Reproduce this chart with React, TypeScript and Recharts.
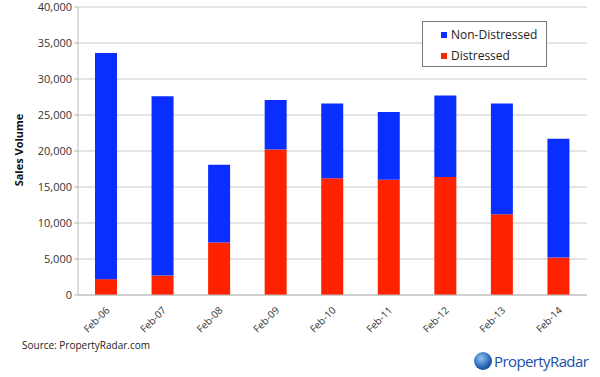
import React from 'react';
import { BarChart, Bar, XAxis, YAxis, CartesianGrid } from 'recharts';

document.body.style.margin = '0';

const months = ['Feb-06', 'Feb-07', 'Feb-08', 'Feb-09', 'Feb-10', 'Feb-11', 'Feb-12', 'Feb-13', 'Feb-14'];
const distressed = [2200, 2700, 7300, 20200, 16200, 16000, 16400, 11200, 5200];
const totals = [33600, 27600, 18100, 27100, 26600, 25400, 27700, 26600, 21700];
const yTicks = [0, 5000, 10000, 15000, 20000, 25000, 30000, 35000, 40000];

const data = months.map((m, i) => ({
  month: m,
  distressed: distressed[i],
  nonDistressed: totals[i] - distressed[i],
}));

const FONT = '"Open Sans", "DejaVu Sans", sans-serif';

const MonthTick = ({ x, y, payload }: any) => (
  <text
    x={x + 4}
    y={y + 8}
    textAnchor="end"
    fontSize={10}
    fontFamily={FONT}
    fill="#333"
    transform={`rotate(-45 ${x + 4} ${y + 8})`}
  >
    {payload.value}
  </text>
);

// legend drawn as overlay so it takes no space from the plot
const LegendBox = () => (
  <div
    style={{
      position: 'absolute',
      left: 422,
      top: 21,
      width: 125,
      height: 46,
      border: '1px solid #777',
      background: '#fff',
      fontFamily: FONT,
      fontSize: 12,
      color: '#222',
      boxSizing: 'border-box',
      paddingLeft: 18,
      paddingTop: 2,
    }}
  >
    <div style={{ display: 'flex', alignItems: 'center', height: 21 }}>
      <span style={{ width: 6, height: 6, background: '#0a2eff', marginRight: 4 }} />
      Non-Distressed
    </div>
    <div style={{ display: 'flex', alignItems: 'center', height: 21 }}>
      <span style={{ width: 6, height: 6, background: '#ff2200', marginRight: 4 }} />
      Distressed
    </div>
  </div>
);

export default function App() {
  return (
    <div style={{ position: 'relative', width: 600, height: 377, background: '#fff' }}>
      <BarChart
        width={600}
        height={377}
        data={data}
        margin={{ top: 7, right: 13, left: 0, bottom: 0 }}
      >
        <CartesianGrid vertical={false} stroke="#c8c8c8" />
        <XAxis
          dataKey="month"
          height={82}
          tick={<MonthTick />}
          tickLine={false}
          axisLine={{ stroke: '#bbb' }}
          interval={0}
        />
        <YAxis
          width={78}
          domain={[0, 40000]}
          ticks={yTicks}
          tickFormatter={(v: number) => v.toLocaleString('en-US')}
          tick={{ fontSize: 11, fill: '#333', fontFamily: FONT }}
          tickLine={{ stroke: '#bbb' }}
          tickSize={4}
          axisLine={{ stroke: '#bbb' }}
        />
        <Bar dataKey="distressed" name="Distressed" stackId="a" fill="#ff2200" barSize={22} isAnimationActive={false} />
        <Bar dataKey="nonDistressed" name="Non-Distressed" stackId="a" fill="#0a2eff" barSize={22} isAnimationActive={false} />
      </BarChart>
      <LegendBox />
      <div
        style={{
          position: 'absolute',
          left: 18,
          top: 150,
          transform: 'translate(-50%, -50%) rotate(-90deg)',
          fontFamily: FONT,
          fontWeight: 'bold',
          fontSize: 11,
          color: '#111',
          whiteSpace: 'nowrap',
        }}
      >
        Sales Volume
      </div>
      <div
        style={{
          position: 'absolute',
          left: 22,
          top: 338,
          fontFamily: FONT,
          fontSize: 10,
          color: '#222',
        }}
      >
        Source: PropertyRadar.com
      </div>
      <div style={{ position: 'absolute', left: 474, top: 351, display: 'flex', alignItems: 'center' }}>
        <span
          style={{
            width: 18,
            height: 18,
            borderRadius: 9,
            background: 'radial-gradient(circle at 40% 35%, #8fc3f0, #1f5fb0 60%, #0d3a7a)',
            marginRight: 2,
          }}
        />
        <span style={{ fontFamily: FONT, fontSize: 15, color: '#1a4fa8', letterSpacing: -0.6 }}>
          PropertyRadar
        </span>
      </div>
    </div>
  );
}
